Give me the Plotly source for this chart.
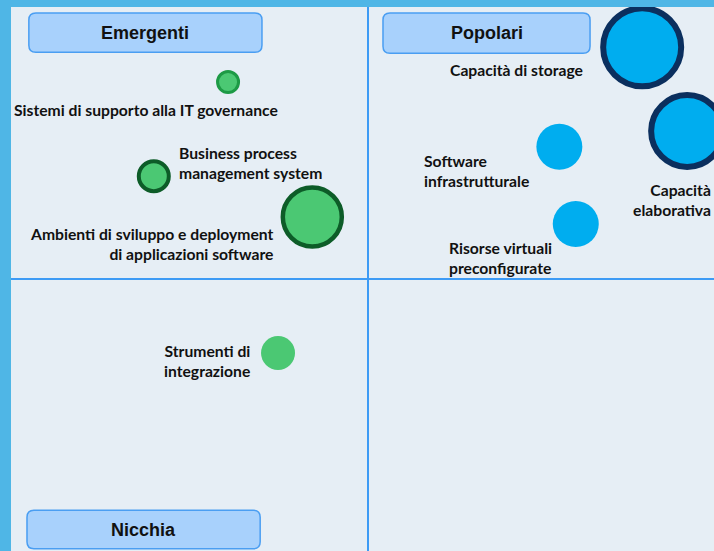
import plotly.graph_objects as go

# posizione delle tecnologie nella matrice (scala 0-100 su entrambi gli assi)
tecnologie = [
    "Sistemi di supporto alla IT governance",
    "Business process<br>management system",
    "Ambienti di sviluppo e deployment<br>di applicazioni software",
    "Strumenti di<br>integrazione",
    "Capacità di storage",
    "Capacità<br>elaborativa",
    "Software<br>infrastrutturale",
    "Risorse virtuali<br>preconfigurate",
]
maturita = [30.4, 20.0, 42.2, 37.4, 88.4, 94.7, 76.8, 79.1]
diffusione = [86.2, 68.9, 61.4, 36.4, 92.6, 77.2, 74.3, 60.1]
peso = [21, 30, 59, 34, 78, 72, 46, 46]
gruppo = ["verde", "verde", "verde", "verde", "blu", "blu", "blu", "blu"]
bordo = [3, 4, 4.5, 0, 6, 6, 0, 0]

quadranti = ["Emergenti", "Popolari", "Nicchia"]

GREEN = "#4bc873"
BLUE = "#00adef"
line_col = {"verde": ["#1d9a45", "#0d5c28", "#0d5c28", GREEN],
            "blu": ["#0b2f5e", "#0b2f5e", BLUE, BLUE]}

# placement of the labels (anchor, shift in px)
label_pos = [
    ("left", -216, -28),
    ("left", 23, 13),
    ("right", -36, -27),
    ("right", -26, -8),
    ("right", -57, -23),
    ("right", 26, -69),
    ("left", -137, -24),
    ("left", -129, -34),
]

# header boxes in data coords: x0, x1, y0, y1
boxes = [(2.5, 35.15, 91.7, 98.9), (52.1, 81.1, 91.5, 98.9), (2.24, 34.9, 0.4, 7.5)]


def rounded_rect(x0, x1, y0, y1, rx=0.98, ry=1.29):
    return (f"M {x0 + rx},{y0} L {x1 - rx},{y0} Q {x1},{y0} {x1},{y0 + ry} "
            f"L {x1},{y1 - ry} Q {x1},{y1} {x1 - rx},{y1} "
            f"L {x0 + rx},{y1} Q {x0},{y1} {x0},{y1 - ry} "
            f"L {x0},{y0 + ry} Q {x0},{y0} {x0 + rx},{y0} Z")


fills, lines = [], []
k = {"verde": 0, "blu": 0}
for g in gruppo:
    fills.append(GREEN if g == "verde" else BLUE)
    lines.append(line_col[g][k[g]])
    k[g] += 1

fig = go.Figure()
fig.add_trace(go.Scatter(
    x=maturita, y=diffusione, mode="markers",
    marker=dict(size=peso, sizemode="diameter", color=fills,
                line=dict(color=lines, width=bordo), opacity=1),
    hovertext=[t.replace("<br>", " ") for t in tecnologie], hoverinfo="text",
    showlegend=False,
))

# quadrant lines
fig.add_shape(type="line", x0=50, x1=50, y0=-5, y1=105, line=dict(color="#3d9bf5", width=2))
fig.add_shape(type="line", x0=-5, x1=105, y0=50, y1=50, line=dict(color="#3d9bf5", width=2))

for (x0, x1, y0, y1), q in zip(boxes, quadranti):
    fig.add_shape(type="path", path=rounded_rect(x0, x1, y0, y1),
                  fillcolor="#a8d1fc", line=dict(color="#4a9ef2", width=1.5))
    fig.add_annotation(x=(x0 + x1) / 2, y=(y0 + y1) / 2, text=f"<b>{q}</b>", showarrow=False,
                       font=dict(family="Liberation Sans, Arial", size=18, color="#111111"))

for t, xx, yy, (anc, dx, dy) in zip(tecnologie, maturita, diffusione, label_pos):
    fig.add_annotation(x=xx, y=yy, text=f"<b>{t}</b>", showarrow=False,
                       xanchor=anc, align=anc, xshift=dx, yshift=dy,
                       font=dict(family="Lato, Carlito, sans-serif", size=15.7, color="#111111"))

fig.update_xaxes(range=[0, 98.46], visible=False, showgrid=False, zeroline=False)
fig.update_yaxes(range=[0, 100], visible=False, showgrid=False, zeroline=False)
fig.update_layout(
    width=714, height=551,
    margin=dict(l=11, r=0, t=7, b=0),
    paper_bgcolor="#4fb6e6",
    plot_bgcolor="#e6eef5",
)

# page has a default body margin; remove it so the figure sits at the corner
fig.write_html("out.html", config={"displayModeBar": False},
               post_script="document.body.style.margin='0';")
